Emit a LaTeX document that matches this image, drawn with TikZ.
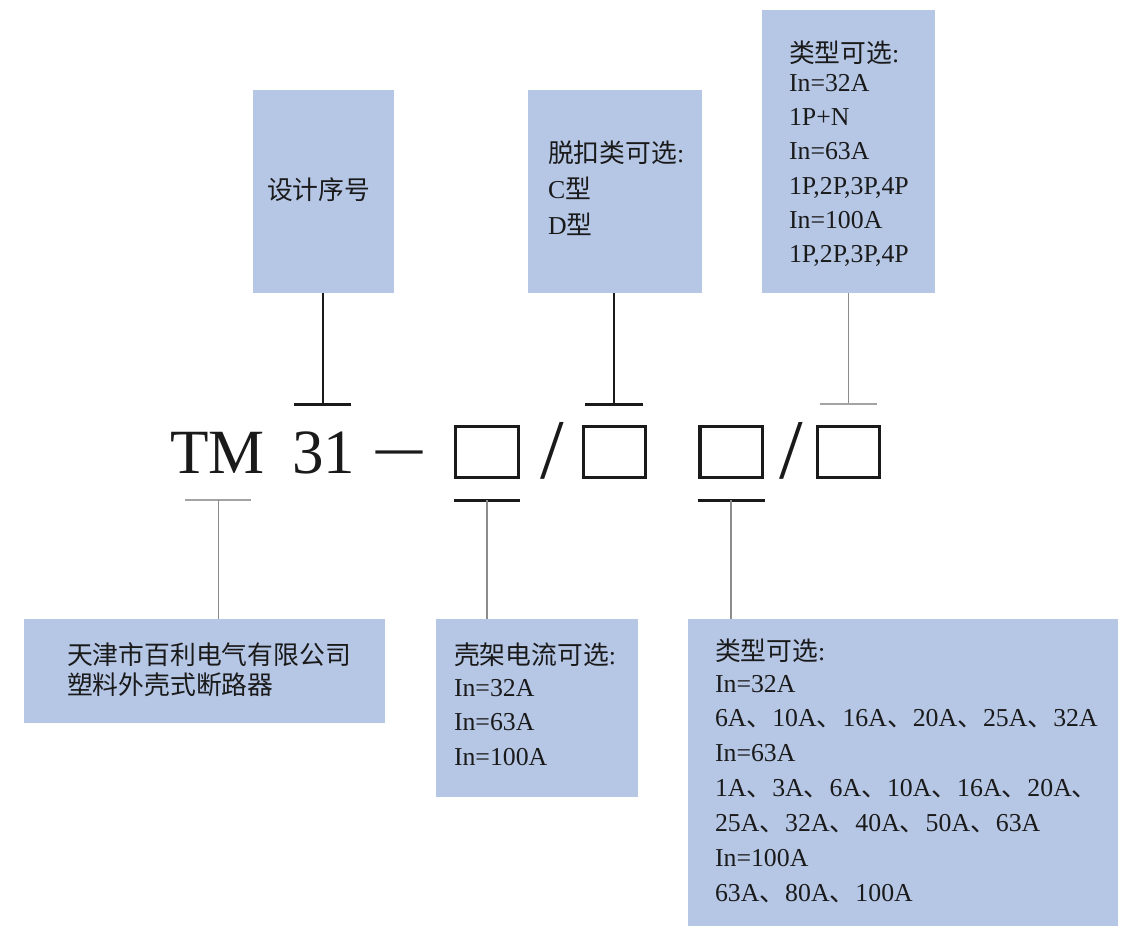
\documentclass[tikz,border=0pt]{standalone}
\usepackage{fontspec}
\usepackage{graphicx}
\setmainfont{Liberation Serif}
\newfontfamily\cjk{Noto Sans CJK SC}
\newcommand{\zh}[1]{{\cjk #1}}
\definecolor{boxblue}{RGB}{182,199,230}
\definecolor{ink}{RGB}{26,26,26}
\definecolor{greyline}{RGB}{140,140,140}
\begin{document}
\begin{tikzpicture}[x=1pt,y=-1pt,
  bluebox/.style={fill=boxblue, draw=none, rectangle, inner sep=0pt, outer sep=0pt, anchor=north west},
  boxtext/.style 2 args={anchor=base west, inner sep=0pt, outer sep=0pt, align=left, text width=#1, font=\fontsize{25.8}{#2}\selectfont, text=ink},
  bigtext/.style={anchor=base west, inner sep=0pt, outer sep=0pt, font=\fontsize{63}{63}\selectfont, text=ink},
  sq/.style={draw=ink, line width=3.3, minimum width=62.5, minimum height=51, inner sep=0pt, rectangle},
  stemblack/.style={draw=ink, line width=2.2},
  barblack/.style={draw=ink, line width=3},
  stemgrey/.style={draw=greyline, line width=1.3},
  bargrey/.style={draw=greyline!80, line width=2}]
\fill[white] (0,0) rectangle (1129,926);
\useasboundingbox (0,0) rectangle (1129,926);

% boxes
\node[bluebox, minimum width=141, minimum height=203] (b1) at (253,90) {};
\node[bluebox, minimum width=174, minimum height=203] (b2) at (528,90) {};
\node[bluebox, minimum width=173, minimum height=283] (b3) at (762,10) {};
\node[bluebox, minimum width=361, minimum height=104] (b4) at (24,619) {};
\node[bluebox, minimum width=202, minimum height=178] (b5) at (436,619) {};
\node[bluebox, minimum width=430, minimum height=307] (b6) at (688,619) {};

% box texts
\node[boxtext={120}{34}] (x1) at (267,199.7) {\zh{设计序号}};
\node[boxtext={150}{36}] (x2) at (548,162.5) {\zh{脱扣类可选}:\\ C\zh{型}\\ D\zh{型}};
\node[boxtext={150}{34.2}] (x3) at (789,62.7) {\zh{类型可选}:\\[-5.5pt] In=32A\\ 1P+N\\ In=63A\\ 1P,2P,3P,4P\\ In=100A\\ 1P,2P,3P,4P};
\node[boxtext={320}{30}] (x4) at (67,664.7) {\zh{天津市百利电气有限公司}\\ \zh{塑料外壳式断路器}};
\node[boxtext={180}{34.3}] (x5) at (454,664.7) {\zh{壳架电流可选}:\\[-2.6pt] In=32A\\ In=63A\\ In=100A};
\node[boxtext={400}{34.9}] (x6) at (715,660) {\zh{类型可选}:\\[-2.9pt] In=32A\\ 6A\zh{、}10A\zh{、}16A\zh{、}20A\zh{、}25A\zh{、}32A\\ In=63A\\ 1A\zh{、}3A\zh{、}6A\zh{、}10A\zh{、}16A\zh{、}20A\zh{、}\\ 25A\zh{、}32A\zh{、}40A\zh{、}50A\zh{、}63A\\ In=100A\\ 63A\zh{、}80A\zh{、}100A};

% model code
\node[bigtext] (tm) at (170,473) {TM};
\node[bigtext] (n31) at (292,473) {31};
\node[anchor=base west, inner sep=0pt, font=\fontsize{92}{92}\selectfont, text=ink] (dash) at (376,467.2) {\scalebox{1}[0.7]{–}};
\node[sq] (sa) at (487,452.2) {};
\node[anchor=base west, inner sep=0pt, font=\fontsize{85}{85}\selectfont, text=ink] (sl1) at (540,478.5) {/};
\node[sq] (sb) at (614.5,452.2) {};
\node[sq] (sc) at (731.2,452.2) {};
\node[anchor=base west, inner sep=0pt, font=\fontsize{85}{85}\selectfont, text=ink] (sl2) at (779,478.5) {/};
\node[sq] (sd) at (848.5,452.2) {};

% connector ends
\coordinate (t1) at (322.7,404);
\coordinate (t2) at (614.3,404);
\coordinate (t3) at (848.3,404);
\coordinate (u1) at (218.3,500);
\coordinate (u2) at (487,500);
\coordinate (u3) at (731,500);

% top connectors
\draw[stemblack] (b1.south -| t1) -- (t1);
\draw[barblack] ([xshift=-28.5pt]t1) -- ([xshift=28.5pt]t1);
\draw[stemblack] (b2.south -| t2) -- (t2);
\draw[barblack] ([xshift=-29pt]t2) -- ([xshift=29pt]t2);
\draw[stemgrey] (b3.south -| t3) -- (t3);
\draw[bargrey] ([xshift=-28.5pt]t3) -- ([xshift=28.5pt]t3);

% bottom connectors
\draw[bargrey] ([xshift=-33pt]u1) -- ([xshift=33pt]u1);
\draw[stemgrey] (u1) -- (u1 |- b4.north);
\draw[barblack] ([xshift=-33pt]u2) -- ([xshift=33pt]u2);
\draw[stemgrey] (u2) -- (u2 |- b5.north);
\draw[barblack] ([xshift=-33.5pt]u3) -- ([xshift=33.5pt]u3);
\draw[stemgrey] (u3) -- (u3 |- b6.north);
\end{tikzpicture}
\end{document}
